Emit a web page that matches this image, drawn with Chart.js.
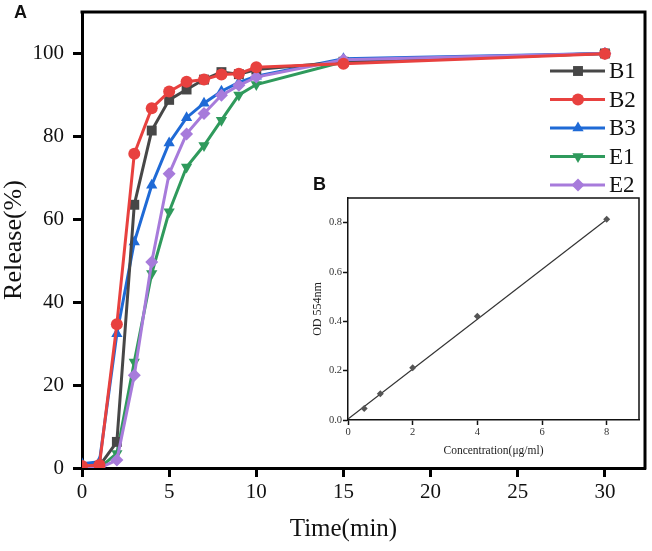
<!DOCTYPE html>
<html>
<head>
<meta charset="utf-8">
<script src="https://cdn.jsdelivr.net/npm/chart.js@4.4.1/dist/chart.umd.min.js"></script>
<style>
html, body { margin: 0; padding: 0; background: #fff; }
#wrap { position: relative; width: 652px; height: 551px; }
#main { position: absolute; left: 0; top: 0; }
#inset { position: absolute; left: 296px; top: 188px; }
</style>
</head>
<body>
<div id="wrap">
  <canvas id="main" width="652" height="551"></canvas>
  <canvas id="inset" width="350" height="280"></canvas>
</div>
<script>
// release curves (panel A)
const times = [0, 1, 2, 3, 4, 5, 6, 7, 8, 9, 10, 15, 30];
const seriesNames = ['B1', 'B2', 'B3', 'E1', 'E2'];
const b1 = [0, 0.5, 6.3, 63.5, 81.4, 88.8, 91.3, 93.7, 95.5, 95.0, 96.1, 98.0, 100];
const b2 = [0.5, 0.7, 34.7, 75.8, 86.8, 90.8, 93.2, 93.7, 94.9, 95.1, 96.7, 97.5, 99.9];
const b3 = [1.0, 1.5, 32.4, 54.5, 68.2, 78.4, 84.5, 88.0, 90.9, 93.0, 94.5, 98.7, 100];
const e1 = [0, 0, 3.5, 25.6, 46.9, 61.8, 72.6, 77.8, 83.9, 90.0, 92.5, 98.0, 100];
const e2 = [0, 0, 1.9, 22.4, 49.7, 71.0, 80.6, 85.5, 89.9, 92.3, 94.3, 98.5, 100];
const timeTicks = [0, 5, 10, 15, 20, 25, 30];
const releaseTicks = [0, 20, 40, 60, 80, 100];

// standard curve (panel B)
const conc = [0.5, 1, 2, 4, 8];
const od = [0.047, 0.106, 0.212, 0.421, 0.814];
const fitConc = [0, 8];
const fitOd = [0.004, 0.813];
const concTicks = [0, 2, 4, 6, 8];
const odTicks = [0, 0.2, 0.4, 0.6, 0.8];

const serif = 'Liberation Serif';
const pts = (xs, ys) => xs.map((x, i) => ({ x: x, y: ys[i] }));

const colors = ['#474747', '#e8413f', '#1f6ad6', '#2f9a5c', '#a77bdb'];
const shapes = ['rect', 'circle', 'triangle', 'triangle', 'rectRot'];
const rotations = [0, 0, 0, 180, 0];
const radii = [7, 6, 6.5, 6.5, 6.5];
const orders = [2, 0, 3, 4, 1];
const allSeries = [b1, b2, b3, e1, e2];

const datasets = allSeries.map((s, i) => ({
  label: seriesNames[i],
  data: pts(times, s),
  borderColor: colors[i],
  backgroundColor: colors[i],
  borderWidth: 3,
  pointStyle: shapes[i],
  pointRotation: rotations[i],
  pointRadius: radii[i],
  pointBorderWidth: 0,
  tension: 0,
  order: orders[i]
}));

// fixed axis size, no label overflow padding
function fixSize(size) {
  return s => {
    if (s.isHorizontal()) s.height = size; else s.width = size;
    s.paddingTop = 0; s.paddingBottom = 0;
    s.paddingLeft = 0; s.paddingRight = 0;
  };
}

const mainDecor = {
  id: 'mainDecor',
  afterDatasetsDraw(chart) {
    const { ctx, chartArea: a, scales } = chart;
    ctx.save();
    // top and right frame
    ctx.strokeStyle = '#000';
    ctx.lineWidth = 3;
    ctx.lineCap = 'square';
    ctx.beginPath();
    ctx.moveTo(a.left, a.top);
    ctx.lineTo(a.right, a.top);
    ctx.lineTo(a.right, a.bottom);
    ctx.stroke();

    // legend
    chart.data.datasets.forEach((d, i) => {
      const y = 71 + i * 28.5;
      ctx.strokeStyle = d.borderColor;
      ctx.fillStyle = d.backgroundColor;
      ctx.lineWidth = 3;
      ctx.lineCap = 'butt';
      ctx.beginPath();
      ctx.moveTo(550, y);
      ctx.lineTo(605, y);
      ctx.stroke();
      Chart.helpers.drawPoint(ctx, {
        pointStyle: d.pointStyle, rotation: d.pointRotation,
        radius: d.pointRadius, borderWidth: 0
      }, 578, y);
      ctx.fillStyle = '#111';
      ctx.font = '23px "' + serif + '"';
      ctx.textAlign = 'left';
      ctx.textBaseline = 'middle';
      ctx.fillText(d.label, 609, y + 1);
    });

    // axis titles
    ctx.fillStyle = '#111';
    ctx.font = '25px "' + serif + '"';
    ctx.textAlign = 'center';
    ctx.textBaseline = 'middle';
    ctx.fillText('Time(min)', scales.x.getPixelForValue(15), 529);
    ctx.save();
    ctx.translate(14, (a.top + a.bottom) / 2);
    ctx.rotate(-Math.PI / 2);
    ctx.font = '26px "' + serif + '"';
    ctx.fillText('Release(%)', 0, 0);
    ctx.restore();

    // panel letters
    ctx.font = 'bold 18px "Liberation Sans"';
    ctx.textAlign = 'left';
    ctx.textBaseline = 'alphabetic';
    ctx.fillText('A', 14, 18);
    ctx.fillText('B', 313, 190);
    ctx.restore();
  }
};

new Chart(document.getElementById('main'), {
  type: 'line',
  data: { datasets: datasets },
  options: {
    responsive: false,
    animation: false,
    layout: { padding: { top: 12, right: 7, left: 0, bottom: 0 } },
    plugins: { legend: { display: false }, tooltip: { enabled: false } },
    scales: {
      x: {
        type: 'linear', min: 0, max: 32.3,
        afterBuildTicks: s => { s.ticks = timeTicks.map(v => ({ value: v })); },
        afterFit: fixSize(83),
        grid: { drawOnChartArea: false, tickLength: 9, tickWidth: 3, tickColor: '#000' },
        border: { display: true, color: '#000', width: 3 },
        ticks: { color: '#111', font: { family: serif, size: 21 }, padding: 3, maxRotation: 0 }
      },
      y: {
        type: 'linear', min: 0, max: 110,
        afterBuildTicks: s => { s.ticks = releaseTicks.map(v => ({ value: v })); },
        afterFit: fixSize(82),
        grid: { drawOnChartArea: false, tickLength: 9, tickWidth: 3, tickColor: '#000' },
        border: { display: true, color: '#000', width: 3 },
        ticks: { color: '#111', font: { family: serif, size: 21 }, padding: 9 }
      }
    }
  },
  plugins: [mainDecor]
});

const insetDecor = {
  id: 'insetDecor',
  beforeDraw(chart) {
    const { ctx, chartArea: a } = chart;
    ctx.save();
    ctx.fillStyle = '#fff';
    ctx.fillRect(a.left, a.top, a.right - a.left, a.bottom - a.top);
    ctx.restore();
  },
  afterDatasetsDraw(chart) {
    const { ctx, chartArea: a } = chart;
    ctx.save();
    ctx.strokeStyle = '#111';
    ctx.lineWidth = 1.5;
    ctx.beginPath();
    ctx.moveTo(a.left, a.top);
    ctx.lineTo(a.right, a.top);
    ctx.lineTo(a.right, a.bottom);
    ctx.stroke();

    ctx.fillStyle = '#222';
    ctx.textAlign = 'center';
    ctx.textBaseline = 'middle';
    ctx.font = '11.5px "' + serif + '"';
    ctx.fillText('Concentration(\u03bcg/ml)', (a.left + a.right) / 2, 263);
    ctx.save();
    ctx.translate(22, (a.top + a.bottom) / 2);
    ctx.rotate(-Math.PI / 2);
    ctx.font = '12px "' + serif + '"';
    ctx.fillText('OD 554nm', 0, 0);
    ctx.restore();
    ctx.restore();
  }
};

new Chart(document.getElementById('inset'), {
  type: 'line',
  data: {
    datasets: [
      {
        label: 'fit',
        data: pts(fitConc, fitOd),
        borderColor: '#333',
        borderWidth: 1.2,
        pointRadius: 0,
        order: 1
      },
      {
        label: 'standard',
        data: pts(conc, od),
        showLine: false,
        borderColor: '#555',
        backgroundColor: '#555',
        pointStyle: 'rectRot',
        pointRadius: 3.5,
        pointBorderWidth: 0,
        order: 0
      }
    ]
  },
  options: {
    responsive: false,
    animation: false,
    layout: { padding: { top: 10, right: 7, left: 0, bottom: 0 } },
    plugins: { legend: { display: false }, tooltip: { enabled: false } },
    scales: {
      x: {
        type: 'linear', min: 0, max: 9,
        afterBuildTicks: s => { s.ticks = concTicks.map(v => ({ value: v })); },
        afterFit: fixSize(48),
        grid: { drawOnChartArea: false, tickLength: 5, tickWidth: 1.5, tickColor: '#111' },
        border: { display: true, color: '#111', width: 1.5 },
        ticks: { color: '#333', font: { family: serif, size: 10.5 }, padding: 1, maxRotation: 0 }
      },
      y: {
        type: 'linear', min: 0, max: 0.9,
        afterBuildTicks: s => { s.ticks = odTicks.map(v => ({ value: v })); },
        afterFit: fixSize(52),
        grid: { drawOnChartArea: false, tickLength: 5, tickWidth: 1.5, tickColor: '#111' },
        border: { display: true, color: '#111', width: 1.5 },
        ticks: {
          color: '#333', font: { family: serif, size: 10.5 }, padding: 1,
          callback: v => v.toFixed(1)
        }
      }
    }
  },
  plugins: [insetDecor]
});
</script>
</body>
</html>
